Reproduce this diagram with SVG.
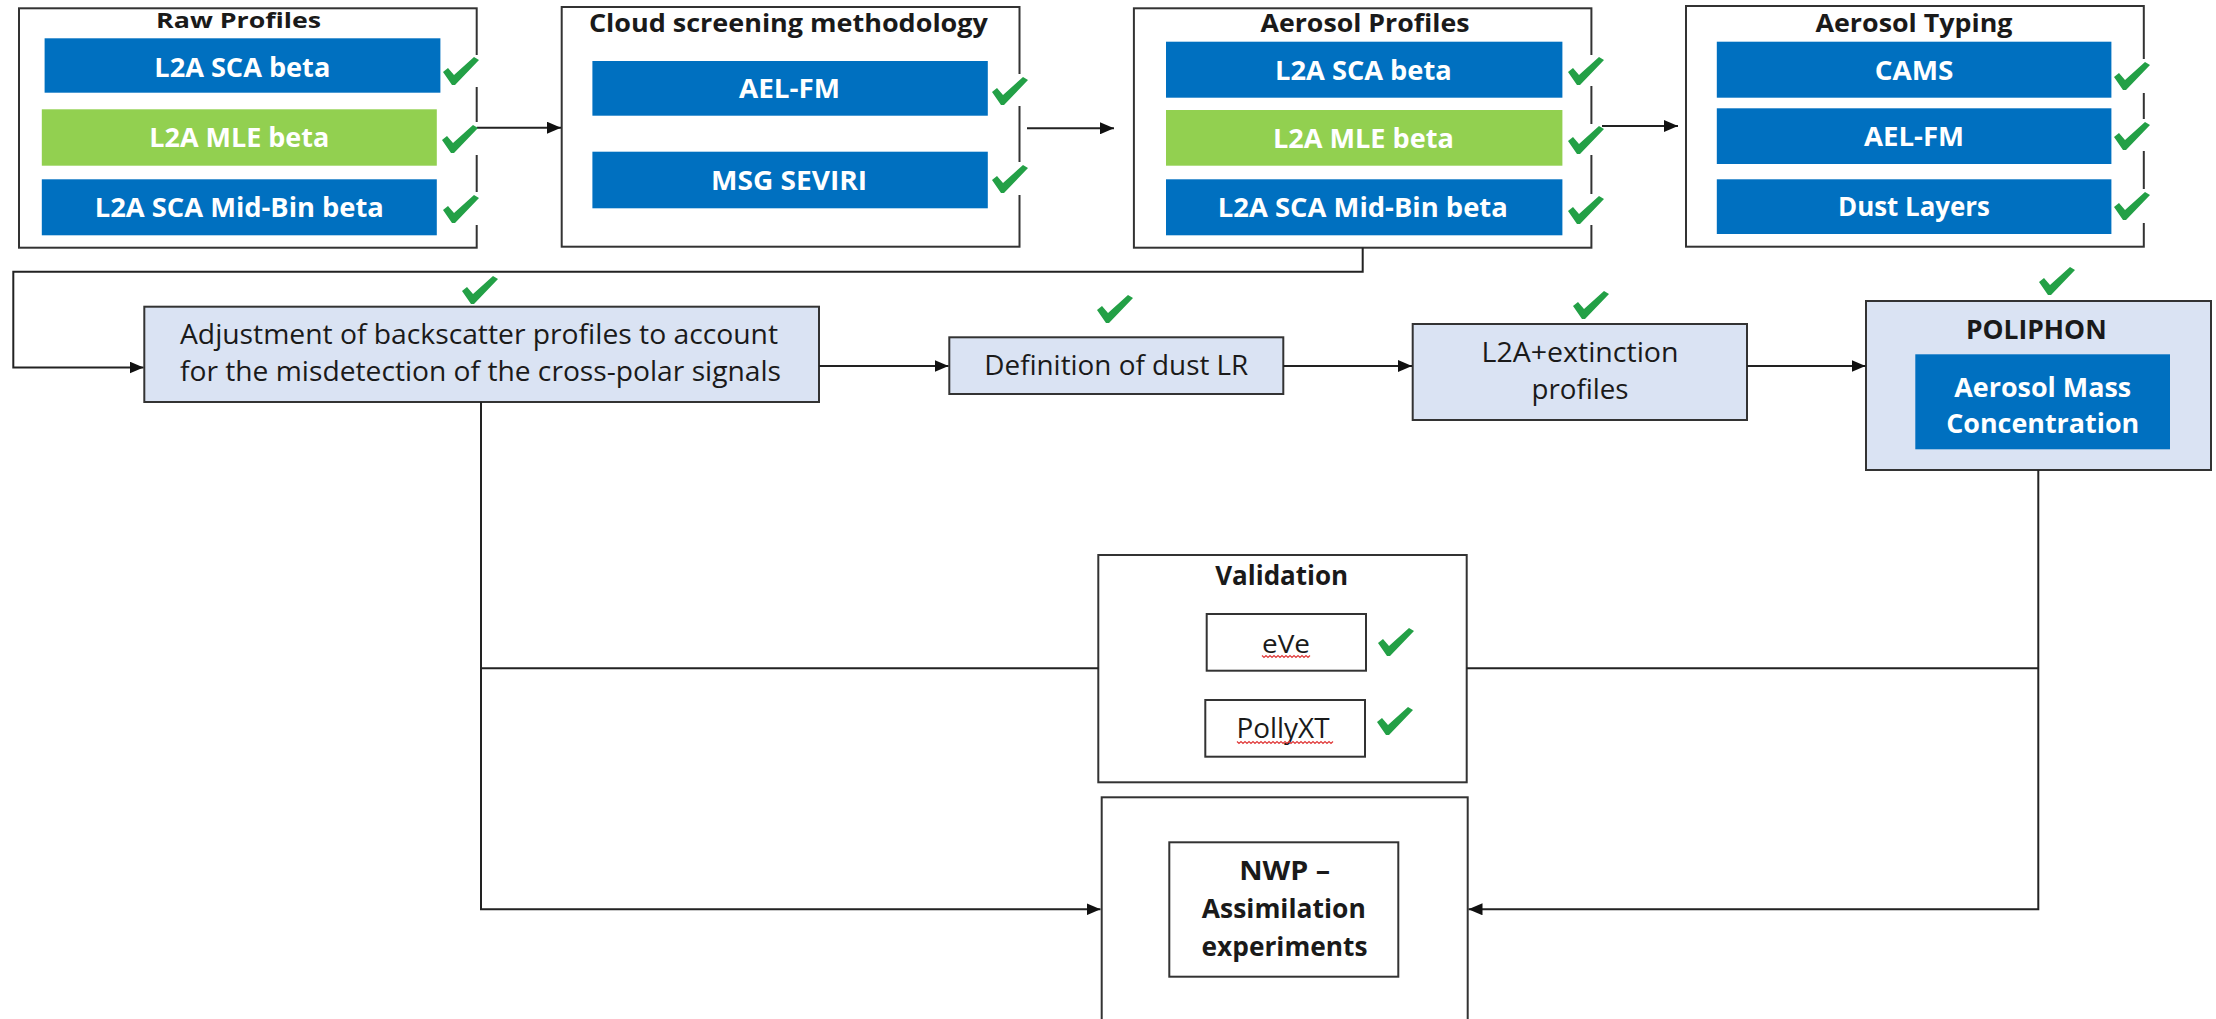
<svg xmlns="http://www.w3.org/2000/svg" width="2216" height="1019" viewBox="0 0 2216 1019">
<style>
.box{fill:#fff;stroke:#333;stroke-width:2}
.lb{fill:#DAE3F3;stroke:#333;stroke-width:2}
.blue{fill:#0070C0}
.green{fill:#92D050}
.t{font-family:"Open Sans","Liberation Sans",Arial,sans-serif;text-anchor:middle}
.b{font-weight:bold}
.w{fill:#fff}
.k{fill:#1a1a1a}
.c{fill:none;stroke:#222;stroke-width:2}
.chk{fill:#23A046}
.pat{fill:#fff}
.sq{fill:none;stroke:#E03A3A;stroke-width:1.2}
</style>
<defs>
<marker id="ah" markerWidth="14" markerHeight="12" refX="14" refY="6" orient="auto" markerUnits="userSpaceOnUse"><path d="M0,0 L14,6 L0,12 Z" fill="#111"/></marker>
<path id="ck" d="M0,15 L5,11 L11,18 L31,0 L36,3 L12,28 L9,28 Z"/>
</defs>
<rect width="2216" height="1019" fill="#fff"/>

<g id="raw-profiles">
<rect class="box" x="19" y="8.3" width="457.7" height="239.4"/>
<text class="t b k" x="238.6" y="28" font-size="22" textLength="165" lengthAdjust="spacingAndGlyphs">Raw Profiles</text>
<rect class="blue" x="44.6" y="38.3" width="395.8" height="54.4"/>
<text class="t b w" x="242.3" y="76.5" font-size="26" textLength="176" lengthAdjust="spacingAndGlyphs">L2A SCA beta</text>
<rect class="green" x="41.8" y="109.3" width="395" height="56.4"/>
<text class="t b w" x="239.3" y="146.5" font-size="26" textLength="180" lengthAdjust="spacingAndGlyphs">L2A MLE beta</text>
<rect class="blue" x="41.8" y="179.3" width="395" height="56"/>
<text class="t b w" x="239.3" y="216.5" font-size="26" textLength="289" lengthAdjust="spacingAndGlyphs">L2A SCA Mid-Bin beta</text>
</g>

<g id="cloud-screening">
<rect class="box" x="561.7" y="7" width="457.8" height="239.7"/>
<text class="t b k" x="788.4" y="32" font-size="25" textLength="399" lengthAdjust="spacingAndGlyphs">Cloud screening methodology</text>
<rect class="blue" x="592.4" y="61" width="395.4" height="54.7"/>
<text class="t b w" x="789.5" y="97.5" font-size="26" textLength="101" lengthAdjust="spacingAndGlyphs">AEL-FM</text>
<rect class="blue" x="592.4" y="151.7" width="395.4" height="56.6"/>
<text class="t b w" x="789.1" y="189.5" font-size="26" textLength="156" lengthAdjust="spacingAndGlyphs">MSG SEVIRI</text>
</g>

<g id="aerosol-profiles">
<rect class="box" x="1133.9" y="8.3" width="457.5" height="239.4"/>
<text class="t b k" x="1365" y="32" font-size="25" textLength="209" lengthAdjust="spacingAndGlyphs">Aerosol Profiles</text>
<rect class="blue" x="1166" y="41.7" width="396.4" height="56"/>
<text class="t b w" x="1363.4" y="79.5" font-size="26" textLength="176.7" lengthAdjust="spacingAndGlyphs">L2A SCA beta</text>
<rect class="green" x="1166" y="110" width="396.4" height="55.7"/>
<text class="t b w" x="1363.4" y="147.5" font-size="26" textLength="181" lengthAdjust="spacingAndGlyphs">L2A MLE beta</text>
<rect class="blue" x="1166" y="179.3" width="396.4" height="56"/>
<text class="t b w" x="1362.8" y="217" font-size="26" textLength="290" lengthAdjust="spacingAndGlyphs">L2A SCA Mid-Bin beta</text>
</g>

<g id="aerosol-typing">
<rect class="box" x="1686" y="6" width="457.8" height="240.7"/>
<text class="t b k" x="1914" y="32" font-size="25" textLength="197" lengthAdjust="spacingAndGlyphs">Aerosol Typing</text>
<rect class="blue" x="1716.8" y="41.7" width="394.6" height="56"/>
<text class="t b w" x="1914" y="79.5" font-size="26" textLength="78.7" lengthAdjust="spacingAndGlyphs">CAMS</text>
<rect class="blue" x="1716.8" y="108.3" width="394.6" height="55.7"/>
<text class="t b w" x="1914" y="145.5" font-size="26" textLength="100" lengthAdjust="spacingAndGlyphs">AEL-FM</text>
<rect class="blue" x="1716.8" y="179.3" width="394.6" height="54.7"/>
<text class="t b w" x="1914" y="215.5" font-size="26" textLength="152" lengthAdjust="spacingAndGlyphs">Dust Layers</text>
</g>

<g id="check-patches">
<rect class="pat" x="441" y="55" width="42" height="32"/>
<rect class="pat" x="440" y="122" width="42" height="33"/>
<rect class="pat" x="441" y="192" width="42" height="33"/>
<rect class="pat" x="990" y="74" width="41" height="32"/>
<rect class="pat" x="990" y="162" width="41" height="33"/>
<rect class="pat" x="1566" y="55" width="40" height="31"/>
<rect class="pat" x="1566" y="124" width="40" height="31"/>
<rect class="pat" x="1566" y="194" width="40" height="31"/>
<rect class="pat" x="2112" y="59" width="40" height="34"/>
<rect class="pat" x="2112" y="119" width="40" height="32"/>
<rect class="pat" x="2112" y="189" width="40" height="34"/>
</g>

<g id="adjustment">
<rect class="lb" x="144.3" y="306.7" width="674.7" height="95.3"/>
<text class="t k" x="479" y="344" font-size="28" textLength="598" lengthAdjust="spacingAndGlyphs">Adjustment of backscatter profiles to account</text>
<text class="t k" x="480.5" y="381" font-size="28" textLength="601" lengthAdjust="spacingAndGlyphs">for the misdetection of the cross-polar signals</text>
</g>

<g id="dust-lr">
<rect class="lb" x="949.3" y="337.3" width="334" height="56.7"/>
<text class="t k" x="1116.3" y="375" font-size="28" textLength="264" lengthAdjust="spacingAndGlyphs">Definition of dust LR</text>
</g>

<g id="l2a-extinction">
<rect class="lb" x="1412.7" y="324" width="334.3" height="96"/>
<text class="t k" x="1580" y="361.7" font-size="27" textLength="197" lengthAdjust="spacingAndGlyphs">L2A+extinction</text>
<text class="t k" x="1580" y="399" font-size="27" textLength="97" lengthAdjust="spacingAndGlyphs">profiles</text>
</g>

<g id="poliphon">
<rect class="lb" x="1866" y="301" width="345" height="169"/>
<text class="t b k" x="2036.3" y="339.3" font-size="27" textLength="140.7" lengthAdjust="spacingAndGlyphs">POLIPHON</text>
<rect class="blue" x="1915.3" y="354.3" width="254.7" height="95"/>
<text class="t b w" x="2042.7" y="396.7" font-size="26" textLength="177" lengthAdjust="spacingAndGlyphs">Aerosol Mass</text>
<text class="t b w" x="2042.7" y="433.3" font-size="26" textLength="193" lengthAdjust="spacingAndGlyphs">Concentration</text>
</g>

<g id="validation">
<rect class="box" x="1098.3" y="555" width="368.4" height="227.3"/>
<text class="t b k" x="1281.7" y="585" font-size="26" textLength="133" lengthAdjust="spacingAndGlyphs">Validation</text>
<rect class="box" x="1206.7" y="614" width="159.3" height="56.7"/>
<text class="t k" x="1286" y="652.7" font-size="25" textLength="48" lengthAdjust="spacingAndGlyphs">eVe</text>
<path class="sq" d="M1262,655.5 l2,2 l2,-2 l2,2 l2,-2 l2,2 l2,-2 l2,2 l2,-2 l2,2 l2,-2 l2,2 l2,-2 l2,2 l2,-2 l2,2 l2,-2 l2,2 l2,-2 l2,2 l2,-2 l2,2 l2,-2 l2,2 l2,-2"/>
<rect class="box" x="1205.3" y="700" width="159.7" height="56.7"/>
<text class="t k" x="1283" y="738.3" font-size="28" textLength="93" lengthAdjust="spacingAndGlyphs">PollyXT</text>
<path class="sq" d="M1237,741.5 l2,2 l2,-2 l2,2 l2,-2 l2,2 l2,-2 l2,2 l2,-2 l2,2 l2,-2 l2,2 l2,-2 l2,2 l2,-2 l2,2 l2,-2 l2,2 l2,-2 l2,2 l2,-2 l2,2 l2,-2 l2,2 l2,-2 l2,2 l2,-2 l2,2 l2,-2 l2,2 l2,-2 l2,2 l2,-2 l2,2 l2,-2 l2,2 l2,-2 l2,2 l2,-2 l2,2 l2,-2 l2,2 l2,-2 l2,2 l2,-2 l2,2 l2,-2 l2,2 l2,-2"/>
</g>

<g id="nwp">
<rect class="box" x="1101.7" y="797.3" width="366" height="240"/>
<rect class="box" x="1169.3" y="842.3" width="229" height="134.4"/>
<text class="t b k" x="1284.7" y="880" font-size="27" textLength="91" lengthAdjust="spacingAndGlyphs">NWP –</text>
<text class="t b k" x="1283.8" y="918.3" font-size="27" textLength="164" lengthAdjust="spacingAndGlyphs">Assimilation</text>
<text class="t b k" x="1284.5" y="956" font-size="27" textLength="166" lengthAdjust="spacingAndGlyphs">experiments</text>
</g>

<g id="connectors">
<path class="c" d="M476.7,127.7 H561" marker-end="url(#ah)"/>
<path class="c" d="M1027,128.3 H1114" marker-end="url(#ah)"/>
<path class="c" d="M1602,126 H1678" marker-end="url(#ah)"/>
<path class="c" d="M1362.7,247.7 V271.7 H13.3 V367.5 H143.5" marker-end="url(#ah)"/>
<path class="c" d="M819,366 H948.5" marker-end="url(#ah)"/>
<path class="c" d="M1283.3,366 H1412" marker-end="url(#ah)"/>
<path class="c" d="M1747,366 H1865.5" marker-end="url(#ah)"/>
<path class="c" d="M481,402 V909.3 H1100.5" marker-end="url(#ah)"/>
<path class="c" d="M481,668.3 H1098.3"/>
<path class="c" d="M1466.7,668.3 H2038.3"/>
<path class="c" d="M2038.3,470 V909.3 H1468.5" marker-end="url(#ah)"/>
</g>

<g id="checks" class="chk">
<use href="#ck" x="443" y="57"/>
<use href="#ck" x="442" y="125"/>
<use href="#ck" x="443" y="195"/>
<use href="#ck" x="992" y="77"/>
<use href="#ck" x="992" y="165"/>
<use href="#ck" x="1568" y="57"/>
<use href="#ck" x="1568" y="126"/>
<use href="#ck" x="1568" y="196"/>
<use href="#ck" x="2114" y="62"/>
<use href="#ck" x="2114" y="122"/>
<use href="#ck" x="2114" y="192"/>
<use href="#ck" x="462" y="276"/>
<use href="#ck" x="1097" y="295"/>
<use href="#ck" x="1573" y="291"/>
<use href="#ck" x="2039" y="267"/>
<use href="#ck" x="1378" y="628"/>
<use href="#ck" x="1377" y="707"/>
</g>
</svg>
